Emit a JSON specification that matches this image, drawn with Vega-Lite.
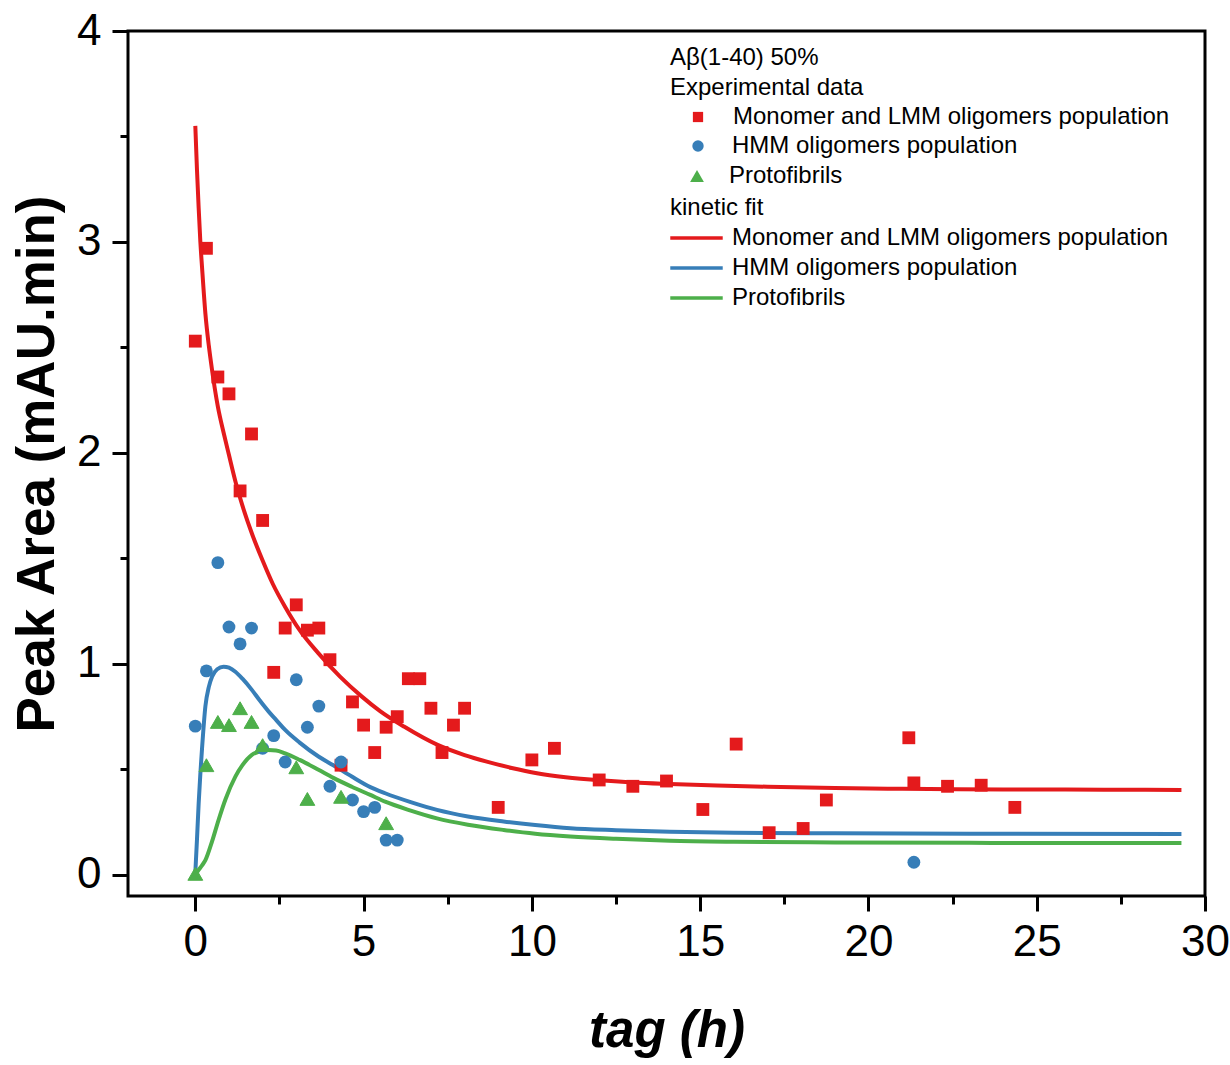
{
  "$schema": "https://vega.github.io/schema/vega-lite/v6.json",
  "width": 1077,
  "height": 865,
  "autosize": {"type": "none"},
  "padding": {"left": 128, "top": 31, "right": 25, "bottom": 169},
  "background": "white",
  "datasets": {
    "pts": [
      {"t": 0, "area": 2.53, "series": "Monomer and LMM oligomers population"},
      {"t": 0.33, "area": 2.97, "series": "Monomer and LMM oligomers population"},
      {"t": 0.67, "area": 2.36, "series": "Monomer and LMM oligomers population"},
      {"t": 1.0, "area": 2.28, "series": "Monomer and LMM oligomers population"},
      {"t": 1.33, "area": 1.82, "series": "Monomer and LMM oligomers population"},
      {"t": 1.67, "area": 2.09, "series": "Monomer and LMM oligomers population"},
      {"t": 2.0, "area": 1.68, "series": "Monomer and LMM oligomers population"},
      {"t": 2.33, "area": 0.96, "series": "Monomer and LMM oligomers population"},
      {"t": 2.67, "area": 1.17, "series": "Monomer and LMM oligomers population"},
      {"t": 3.0, "area": 1.28, "series": "Monomer and LMM oligomers population"},
      {"t": 3.33, "area": 1.16, "series": "Monomer and LMM oligomers population"},
      {"t": 3.67, "area": 1.17, "series": "Monomer and LMM oligomers population"},
      {"t": 4.0, "area": 1.02, "series": "Monomer and LMM oligomers population"},
      {"t": 4.33, "area": 0.52, "series": "Monomer and LMM oligomers population"},
      {"t": 4.67, "area": 0.82, "series": "Monomer and LMM oligomers population"},
      {"t": 5.0, "area": 0.71, "series": "Monomer and LMM oligomers population"},
      {"t": 5.33, "area": 0.58, "series": "Monomer and LMM oligomers population"},
      {"t": 5.67, "area": 0.70, "series": "Monomer and LMM oligomers population"},
      {"t": 6.0, "area": 0.75, "series": "Monomer and LMM oligomers population"},
      {"t": 6.33, "area": 0.93, "series": "Monomer and LMM oligomers population"},
      {"t": 6.67, "area": 0.93, "series": "Monomer and LMM oligomers population"},
      {"t": 7.0, "area": 0.79, "series": "Monomer and LMM oligomers population"},
      {"t": 7.33, "area": 0.58, "series": "Monomer and LMM oligomers population"},
      {"t": 7.67, "area": 0.71, "series": "Monomer and LMM oligomers population"},
      {"t": 8.0, "area": 0.79, "series": "Monomer and LMM oligomers population"},
      {"t": 9.0, "area": 0.32, "series": "Monomer and LMM oligomers population"},
      {"t": 10.0, "area": 0.545, "series": "Monomer and LMM oligomers population"},
      {"t": 10.67, "area": 0.60, "series": "Monomer and LMM oligomers population"},
      {"t": 12.0, "area": 0.45, "series": "Monomer and LMM oligomers population"},
      {"t": 13.0, "area": 0.42, "series": "Monomer and LMM oligomers population"},
      {"t": 14.0, "area": 0.445, "series": "Monomer and LMM oligomers population"},
      {"t": 15.08, "area": 0.31, "series": "Monomer and LMM oligomers population"},
      {"t": 16.07, "area": 0.62, "series": "Monomer and LMM oligomers population"},
      {"t": 17.05, "area": 0.20, "series": "Monomer and LMM oligomers population"},
      {"t": 18.06, "area": 0.22, "series": "Monomer and LMM oligomers population"},
      {"t": 18.75, "area": 0.355, "series": "Monomer and LMM oligomers population"},
      {"t": 21.2, "area": 0.65, "series": "Monomer and LMM oligomers population"},
      {"t": 21.35, "area": 0.436, "series": "Monomer and LMM oligomers population"},
      {"t": 22.35, "area": 0.42, "series": "Monomer and LMM oligomers population"},
      {"t": 23.35, "area": 0.425, "series": "Monomer and LMM oligomers population"},
      {"t": 24.35, "area": 0.32, "series": "Monomer and LMM oligomers population"},
      {"t": 0, "area": 0.705, "series": "HMM oligomers population"},
      {"t": 0.33, "area": 0.967, "series": "HMM oligomers population"},
      {"t": 0.67, "area": 1.48, "series": "HMM oligomers population"},
      {"t": 1.0, "area": 1.175, "series": "HMM oligomers population"},
      {"t": 1.33, "area": 1.095, "series": "HMM oligomers population"},
      {"t": 1.67, "area": 1.17, "series": "HMM oligomers population"},
      {"t": 2.0, "area": 0.60, "series": "HMM oligomers population"},
      {"t": 2.33, "area": 0.66, "series": "HMM oligomers population"},
      {"t": 2.67, "area": 0.535, "series": "HMM oligomers population"},
      {"t": 3.0, "area": 0.925, "series": "HMM oligomers population"},
      {"t": 3.33, "area": 0.70, "series": "HMM oligomers population"},
      {"t": 3.67, "area": 0.80, "series": "HMM oligomers population"},
      {"t": 4.0, "area": 0.42, "series": "HMM oligomers population"},
      {"t": 4.33, "area": 0.535, "series": "HMM oligomers population"},
      {"t": 4.67, "area": 0.355, "series": "HMM oligomers population"},
      {"t": 5.0, "area": 0.30, "series": "HMM oligomers population"},
      {"t": 5.33, "area": 0.32, "series": "HMM oligomers population"},
      {"t": 5.67, "area": 0.165, "series": "HMM oligomers population"},
      {"t": 6.0, "area": 0.165, "series": "HMM oligomers population"},
      {"t": 21.35, "area": 0.06, "series": "HMM oligomers population"},
      {"t": 0, "area": 0.005, "series": "Protofibrils"},
      {"t": 0.33, "area": 0.52, "series": "Protofibrils"},
      {"t": 0.67, "area": 0.725, "series": "Protofibrils"},
      {"t": 1.0, "area": 0.71, "series": "Protofibrils"},
      {"t": 1.33, "area": 0.79, "series": "Protofibrils"},
      {"t": 1.67, "area": 0.725, "series": "Protofibrils"},
      {"t": 2.0, "area": 0.615, "series": "Protofibrils"},
      {"t": 3.0, "area": 0.51, "series": "Protofibrils"},
      {"t": 3.33, "area": 0.36, "series": "Protofibrils"},
      {"t": 4.33, "area": 0.37, "series": "Protofibrils"},
      {"t": 5.67, "area": 0.245, "series": "Protofibrils"}
    ],
    "fit": [
      {"t": 0, "area": 3.55, "series": "Monomer and LMM oligomers population"},
      {"t": 0.05, "area": 3.34, "series": "Monomer and LMM oligomers population"},
      {"t": 0.1, "area": 3.16, "series": "Monomer and LMM oligomers population"},
      {"t": 0.15, "area": 3.0, "series": "Monomer and LMM oligomers population"},
      {"t": 0.2, "area": 2.88, "series": "Monomer and LMM oligomers population"},
      {"t": 0.3, "area": 2.66, "series": "Monomer and LMM oligomers population"},
      {"t": 0.4, "area": 2.51, "series": "Monomer and LMM oligomers population"},
      {"t": 0.5, "area": 2.39, "series": "Monomer and LMM oligomers population"},
      {"t": 0.67, "area": 2.22, "series": "Monomer and LMM oligomers population"},
      {"t": 0.85, "area": 2.09, "series": "Monomer and LMM oligomers population"},
      {"t": 1.0, "area": 1.99, "series": "Monomer and LMM oligomers population"},
      {"t": 1.2, "area": 1.86, "series": "Monomer and LMM oligomers population"},
      {"t": 1.4, "area": 1.75, "series": "Monomer and LMM oligomers population"},
      {"t": 1.7, "area": 1.61, "series": "Monomer and LMM oligomers population"},
      {"t": 2.0, "area": 1.49, "series": "Monomer and LMM oligomers population"},
      {"t": 2.3, "area": 1.38, "series": "Monomer and LMM oligomers population"},
      {"t": 2.67, "area": 1.27, "series": "Monomer and LMM oligomers population"},
      {"t": 3.1, "area": 1.16, "series": "Monomer and LMM oligomers population"},
      {"t": 3.66, "area": 1.05, "series": "Monomer and LMM oligomers population"},
      {"t": 4.3, "area": 0.94, "series": "Monomer and LMM oligomers population"},
      {"t": 4.95, "area": 0.845, "series": "Monomer and LMM oligomers population"},
      {"t": 5.5, "area": 0.775, "series": "Monomer and LMM oligomers population"},
      {"t": 6.2, "area": 0.703, "series": "Monomer and LMM oligomers population"},
      {"t": 7.2, "area": 0.616, "series": "Monomer and LMM oligomers population"},
      {"t": 8.0, "area": 0.568, "series": "Monomer and LMM oligomers population"},
      {"t": 8.66, "area": 0.537, "series": "Monomer and LMM oligomers population"},
      {"t": 9.4, "area": 0.507, "series": "Monomer and LMM oligomers population"},
      {"t": 10.15, "area": 0.482, "series": "Monomer and LMM oligomers population"},
      {"t": 11.0, "area": 0.463, "series": "Monomer and LMM oligomers population"},
      {"t": 12.13, "area": 0.447, "series": "Monomer and LMM oligomers population"},
      {"t": 13.0, "area": 0.438, "series": "Monomer and LMM oligomers population"},
      {"t": 14.1, "area": 0.431, "series": "Monomer and LMM oligomers population"},
      {"t": 15.5, "area": 0.424, "series": "Monomer and LMM oligomers population"},
      {"t": 17.0, "area": 0.418, "series": "Monomer and LMM oligomers population"},
      {"t": 19.0, "area": 0.412, "series": "Monomer and LMM oligomers population"},
      {"t": 21.0, "area": 0.408, "series": "Monomer and LMM oligomers population"},
      {"t": 24.0, "area": 0.405, "series": "Monomer and LMM oligomers population"},
      {"t": 27.0, "area": 0.404, "series": "Monomer and LMM oligomers population"},
      {"t": 29.3, "area": 0.403, "series": "Monomer and LMM oligomers population"},
      {"t": 0, "area": 0.01, "series": "HMM oligomers population"},
      {"t": 0.05, "area": 0.17, "series": "HMM oligomers population"},
      {"t": 0.1, "area": 0.34, "series": "HMM oligomers population"},
      {"t": 0.15, "area": 0.48, "series": "HMM oligomers population"},
      {"t": 0.2, "area": 0.6, "series": "HMM oligomers population"},
      {"t": 0.3, "area": 0.8, "series": "HMM oligomers population"},
      {"t": 0.4, "area": 0.89, "series": "HMM oligomers population"},
      {"t": 0.5, "area": 0.94, "series": "HMM oligomers population"},
      {"t": 0.65, "area": 0.975, "series": "HMM oligomers population"},
      {"t": 0.84, "area": 0.987, "series": "HMM oligomers population"},
      {"t": 1.0, "area": 0.982, "series": "HMM oligomers population"},
      {"t": 1.19, "area": 0.963, "series": "HMM oligomers population"},
      {"t": 1.4, "area": 0.93, "series": "HMM oligomers population"},
      {"t": 1.68, "area": 0.877, "series": "HMM oligomers population"},
      {"t": 1.9, "area": 0.83, "series": "HMM oligomers population"},
      {"t": 2.18, "area": 0.774, "series": "HMM oligomers population"},
      {"t": 2.4, "area": 0.735, "series": "HMM oligomers population"},
      {"t": 2.67, "area": 0.687, "series": "HMM oligomers population"},
      {"t": 3.1, "area": 0.627, "series": "HMM oligomers population"},
      {"t": 3.66, "area": 0.561, "series": "HMM oligomers population"},
      {"t": 4.1, "area": 0.52, "series": "HMM oligomers population"},
      {"t": 4.65, "area": 0.466, "series": "HMM oligomers population"},
      {"t": 5.2, "area": 0.416, "series": "HMM oligomers population"},
      {"t": 5.64, "area": 0.387, "series": "HMM oligomers population"},
      {"t": 6.4, "area": 0.345, "series": "HMM oligomers population"},
      {"t": 7.18, "area": 0.308, "series": "HMM oligomers population"},
      {"t": 8.1, "area": 0.277, "series": "HMM oligomers population"},
      {"t": 9.16, "area": 0.253, "series": "HMM oligomers population"},
      {"t": 10.1, "area": 0.236, "series": "HMM oligomers population"},
      {"t": 11.14, "area": 0.221, "series": "HMM oligomers population"},
      {"t": 12.5, "area": 0.212, "series": "HMM oligomers population"},
      {"t": 14.1, "area": 0.205, "series": "HMM oligomers population"},
      {"t": 16.0, "area": 0.2, "series": "HMM oligomers population"},
      {"t": 19.0, "area": 0.197, "series": "HMM oligomers population"},
      {"t": 23.0, "area": 0.195, "series": "HMM oligomers population"},
      {"t": 29.3, "area": 0.194, "series": "HMM oligomers population"},
      {"t": 0, "area": 0.0, "series": "Protofibrils"},
      {"t": 0.1, "area": 0.024, "series": "Protofibrils"},
      {"t": 0.2, "area": 0.045, "series": "Protofibrils"},
      {"t": 0.3, "area": 0.07, "series": "Protofibrils"},
      {"t": 0.5, "area": 0.16, "series": "Protofibrils"},
      {"t": 0.69, "area": 0.26, "series": "Protofibrils"},
      {"t": 0.9, "area": 0.36, "series": "Protofibrils"},
      {"t": 1.19, "area": 0.466, "series": "Protofibrils"},
      {"t": 1.4, "area": 0.52, "series": "Protofibrils"},
      {"t": 1.68, "area": 0.569, "series": "Protofibrils"},
      {"t": 1.9, "area": 0.585, "series": "Protofibrils"},
      {"t": 2.18, "area": 0.592, "series": "Protofibrils"},
      {"t": 2.4, "area": 0.59, "series": "Protofibrils"},
      {"t": 2.67, "area": 0.576, "series": "Protofibrils"},
      {"t": 3.1, "area": 0.545, "series": "Protofibrils"},
      {"t": 3.66, "area": 0.498, "series": "Protofibrils"},
      {"t": 4.1, "area": 0.46, "series": "Protofibrils"},
      {"t": 4.65, "area": 0.418, "series": "Protofibrils"},
      {"t": 5.2, "area": 0.379, "series": "Protofibrils"},
      {"t": 5.64, "area": 0.347, "series": "Protofibrils"},
      {"t": 6.4, "area": 0.305, "series": "Protofibrils"},
      {"t": 7.18, "area": 0.268, "series": "Protofibrils"},
      {"t": 8.1, "area": 0.238, "series": "Protofibrils"},
      {"t": 9.16, "area": 0.213, "series": "Protofibrils"},
      {"t": 10.1, "area": 0.195, "series": "Protofibrils"},
      {"t": 11.14, "area": 0.182, "series": "Protofibrils"},
      {"t": 12.5, "area": 0.171, "series": "Protofibrils"},
      {"t": 14.1, "area": 0.162, "series": "Protofibrils"},
      {"t": 16.0, "area": 0.157, "series": "Protofibrils"},
      {"t": 19.0, "area": 0.154, "series": "Protofibrils"},
      {"t": 23.0, "area": 0.152, "series": "Protofibrils"},
      {"t": 29.3, "area": 0.151, "series": "Protofibrils"}
    ]
  },
  "layer": [
    {
      "data": {"name": "fit"},
      "mark": {"type": "line", "strokeWidth": 4, "interpolate": "monotone", "clip": true},
      "encoding": {
        "x": {
          "field": "t", "type": "quantitative",
          "scale": {"domain": [-2, 30], "nice": false, "zero": false},
          "axis": {
            "orient": "bottom", "values": [0, 5, 10, 15, 20, 25, 30], "format": "d",
            "tickSize": 15, "labelPadding": 9, "labelFlush": false,
            "title": "tag (h)", "titleFontSize": 51, "titleFontWeight": "bold", "titleFontStyle": "italic",
            "titlePadding": 42
          }
        },
        "y": {
          "field": "area", "type": "quantitative",
          "scale": {"domain": [-0.1, 4], "nice": false, "zero": false},
          "axis": {
            "orient": "left", "values": [0, 1, 2, 3, 4], "format": "d",
            "tickSize": 16, "labelPadding": 11, "labelFlush": false,
            "title": "Peak Area (mAU.min)", "titleFontSize": 53, "titleFontWeight": "bold",
            "titlePadding": 12
          }
        },
        "color": {
          "field": "series", "type": "nominal", "sort": null,
          "scale": {
            "domain": ["Monomer and LMM oligomers population", "HMM oligomers population", "Protofibrils"],
            "range": ["#e41a1c", "#377eb8", "#4daf4a"]
          },
          "legend": {
            "title": "kinetic fit", "orient": "none", "legendX": 542, "legendY": 165, "padding": 0,
            "symbolType": "M-4.6,0H4.6", "symbolSize": 130, "symbolStrokeWidth": 3.5,
            "symbolOffset": 14.5, "labelOffset": 23.5, "rowPadding": 6, "titlePadding": 6, "titleLineHeight": 30
          }
        }
      }
    },
    {
      "data": {"name": "pts"},
      "layer": [
        {
          "transform": [{"filter": "datum.series === 'Monomer and LMM oligomers population'"}],
          "mark": {"type": "point", "filled": true, "opacity": 1, "size": 165, "color": "#e41a1c"},
          "encoding": {
            "x": {
              "field": "t", "type": "quantitative",
              "axis": {
                "orient": "bottom", "values": [2.5, 7.5, 12.5, 17.5, 22.5, 27.5],
                "labels": false, "tickSize": 8, "title": null
              }
            },
            "y": {
              "field": "area", "type": "quantitative",
              "axis": {
                "orient": "left", "values": [0.5, 1.5, 2.5, 3.5],
                "labels": false, "tickSize": 8, "title": null
              }
            },
            "shape": {
              "field": "series", "type": "nominal",
              "scale": {"domain": ["Monomer and LMM oligomers population"], "range": ["square"]},
              "legend": {
                "title": ["Aβ(1-40) 50%", "Experimental data"], "orient": "none", "legendX": 542, "legendY": 15, "padding": 0,
                "symbolSize": 105, "symbolOffset": 16, "labelOffset": 23, "titlePadding": 5, "titleLineHeight": 30,
                "symbolStrokeWidth": 0, "symbolFillColor": "#e41a1c"
              }
            }
          }
        },
        {
          "transform": [{"filter": "datum.series === 'HMM oligomers population'"}],
          "mark": {"type": "point", "filled": true, "opacity": 1, "size": 165, "shape": "circle", "color": "#377eb8"},
          "encoding": {
            "x": {"field": "t", "type": "quantitative"},
            "y": {"field": "area", "type": "quantitative"},
            "fill": {
              "field": "series", "type": "nominal",
              "scale": {"domain": ["HMM oligomers population"], "range": ["#377eb8"]},
              "legend": {
                "title": null, "orient": "none", "legendX": 542, "legendY": 103, "padding": 0,
                "symbolType": "circle", "symbolSize": 130, "symbolOffset": 16, "labelOffset": 22,
                "symbolStrokeWidth": 0
              }
            }
          }
        },
        {
          "transform": [{"filter": "datum.series === 'Protofibrils'"}],
          "mark": {"type": "point", "filled": true, "opacity": 1, "size": 220, "shape": "triangle-up", "color": "#4daf4a", "strokeWidth": 1},
          "encoding": {
            "x": {"field": "t", "type": "quantitative"},
            "y": {"field": "area", "type": "quantitative"},
            "stroke": {
              "field": "series", "type": "nominal",
              "scale": {"domain": ["Protofibrils"], "range": ["#4daf4a"]},
              "legend": {
                "title": null, "orient": "none", "legendX": 542, "legendY": 133, "padding": 0,
                "symbolType": "triangle-up", "symbolSize": 190, "symbolOffset": 15, "labelOffset": 20,
                "symbolStrokeWidth": 0, "symbolFillColor": "#4daf4a"
              }
            }
          }
        }
      ]
    }
  ],
  "resolve": {
    "scale": {"color": "independent"},
    "axis": {"x": "independent", "y": "independent"}
  },
  "config": {
    "font": "Liberation Sans",
    "view": {"stroke": "black", "strokeWidth": 3},
    "axis": {
      "domain": false, "grid": false,
      "tickColor": "black", "tickWidth": 3,
      "labelColor": "black", "labelFontSize": 44, "labelFont": "Liberation Sans",
      "titleColor": "black", "titleFont": "Liberation Sans"
    },
    "legend": {
      "titleFontSize": 24, "titleFontWeight": "normal", "titleColor": "black", "titleFont": "Liberation Sans",
      "labelFontSize": 24, "labelColor": "black", "labelFont": "Liberation Sans", "labelLimit": 0,
      "titleLimit": 0
    }
  }
}
